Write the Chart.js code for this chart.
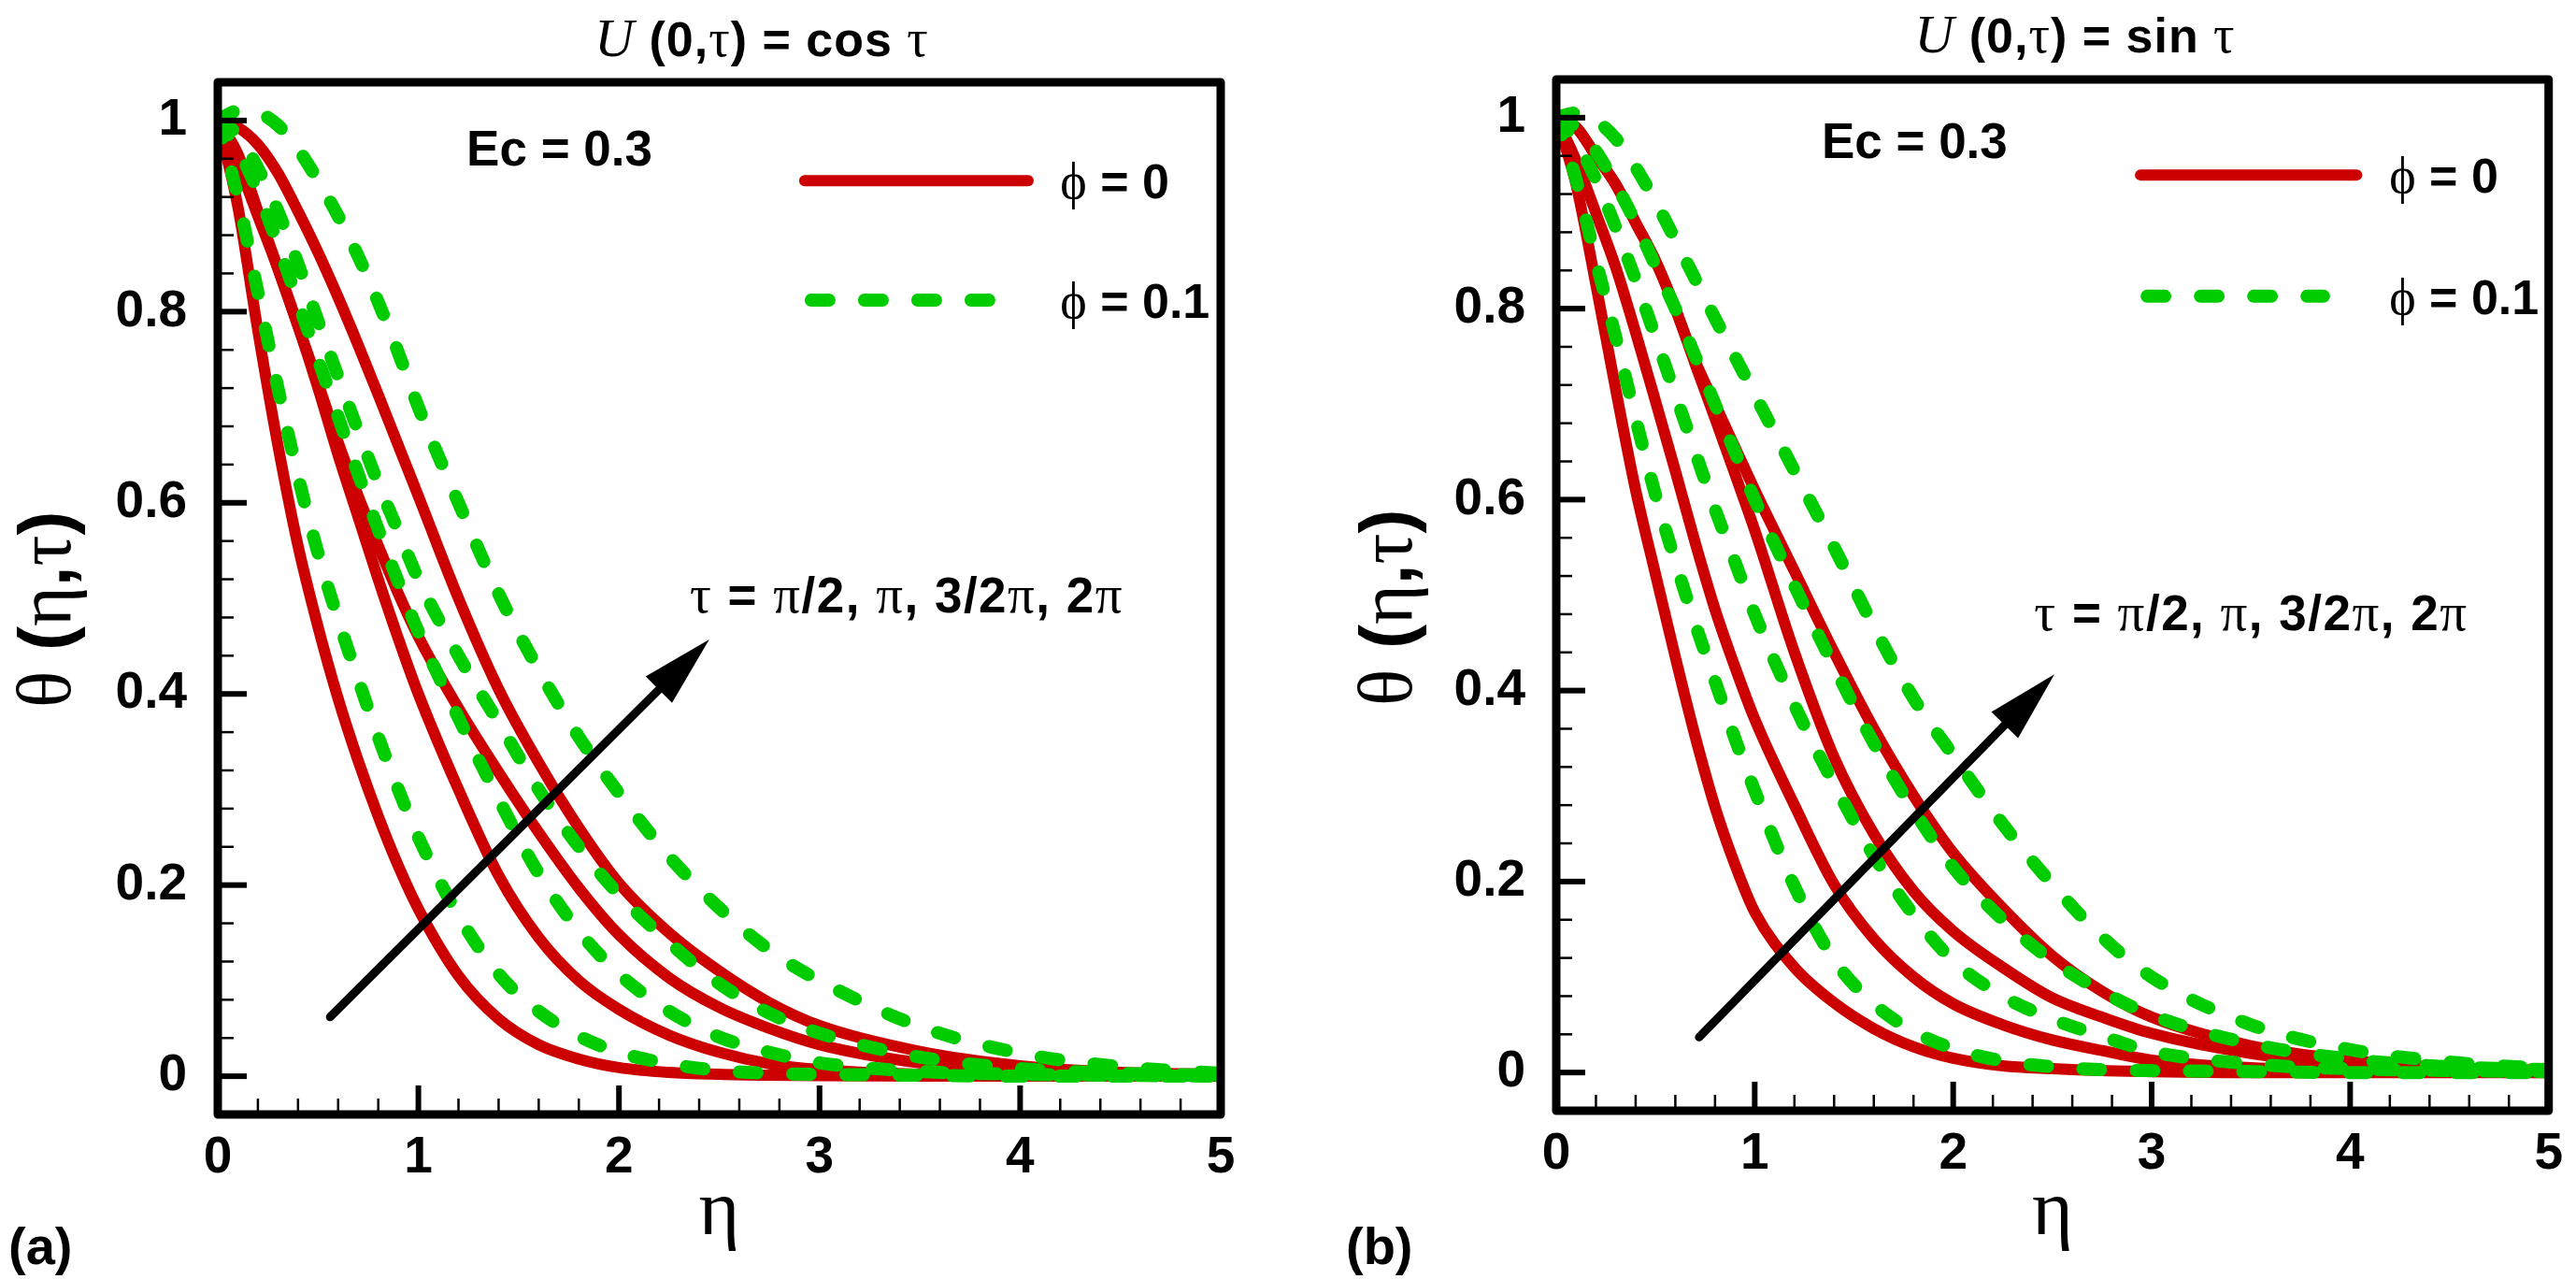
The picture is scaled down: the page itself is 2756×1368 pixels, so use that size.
<!DOCTYPE html>
<html>
<head>
<meta charset="utf-8">
<script src="https://cdn.jsdelivr.net/npm/chart.js@4.4.1/dist/chart.umd.min.js"></script>
<style>
html,body{margin:0;padding:0;background:#fff;}
#wrap{position:relative;width:2756px;height:1368px;background:#fff;}
.panel{position:absolute;top:0;width:1378px;height:1368px;}
</style>
</head>
<body>
<div id="wrap">
<div class="panel" style="left:0"><canvas id="chartA" width="1378" height="1368"></canvas></div>
<div class="panel" style="left:1378px"><canvas id="chartB" width="1378" height="1368"></canvas></div>
</div>
<script>
// eta grid shared by every curve
const eta = [0, 0.1, 0.2, 0.3, 0.4, 0.5, 0.6, 0.7, 0.8, 0.9, 1.0, 1.2, 1.4, 1.6, 1.8, 2.0, 2.25, 2.5, 2.75, 3.0, 3.5, 4.0, 4.5, 5.0]

// (a) U(0,tau) = cos tau, phi = 0  (tau = pi/2, pi, 3pi/2, 2pi)
const cosRed1 = [1.0, 0.91, 0.78, 0.66, 0.555, 0.47, 0.395, 0.33, 0.272, 0.22, 0.175, 0.105, 0.06, 0.033, 0.018, 0.009, 0.004, 0.002, 0.001, 0.0005, 0, 0, 0, 0]
const cosRed2 = [1.0, 0.955, 0.90, 0.845, 0.785, 0.72, 0.65, 0.585, 0.52, 0.458, 0.40, 0.30, 0.21, 0.145, 0.10, 0.07, 0.043, 0.025, 0.013, 0.007, 0.002, 0.001, 0, 0]
const cosRed3 = [1.0, 0.965, 0.905, 0.845, 0.785, 0.725, 0.663, 0.607, 0.555, 0.505, 0.46, 0.385, 0.318, 0.255, 0.197, 0.148, 0.103, 0.072, 0.05, 0.033, 0.014, 0.006, 0.002, 0.001]
const cosRed4 = [1.0, 0.993, 0.975, 0.945, 0.905, 0.862, 0.815, 0.765, 0.713, 0.66, 0.607, 0.50, 0.405, 0.328, 0.26, 0.202, 0.15, 0.11, 0.077, 0.053, 0.026, 0.011, 0.004, 0.002]
// (a) phi = 0.1
const cosGreen1 = [1.0, 0.92, 0.82, 0.72, 0.628, 0.547, 0.478, 0.415, 0.355, 0.30, 0.25, 0.168, 0.107, 0.068, 0.042, 0.025, 0.013, 0.006, 0.003, 0.002, 0.001, 0, 0, 0]
const cosGreen2 = [1.0, 0.97, 0.925, 0.87, 0.81, 0.75, 0.69, 0.63, 0.572, 0.517, 0.465, 0.375, 0.29, 0.212, 0.152, 0.107, 0.068, 0.041, 0.025, 0.014, 0.005, 0.002, 0.001, 0]
const cosGreen3 = [1.0, 0.985, 0.95, 0.905, 0.85, 0.79, 0.732, 0.675, 0.62, 0.57, 0.52, 0.44, 0.37, 0.30, 0.24, 0.19, 0.14, 0.097, 0.066, 0.045, 0.02, 0.008, 0.003, 0.001]
const cosGreen4 = [1.0, 1.01, 1.008, 0.995, 0.97, 0.937, 0.90, 0.858, 0.81, 0.757, 0.70, 0.60, 0.505, 0.425, 0.355, 0.296, 0.23, 0.176, 0.132, 0.10, 0.052, 0.024, 0.01, 0.003]

// (b) U(0,tau) = sin tau, phi = 0
const sinRed1 = [1.0, 0.93, 0.825, 0.715, 0.61, 0.522, 0.435, 0.352, 0.278, 0.218, 0.168, 0.11, 0.073, 0.046, 0.027, 0.015, 0.007, 0.004, 0.002, 0.001, 0, 0, 0, 0]
const sinRed2 = [1.0, 0.955, 0.90, 0.843, 0.775, 0.703, 0.63, 0.555, 0.485, 0.425, 0.37, 0.28, 0.197, 0.14, 0.10, 0.072, 0.05, 0.034, 0.023, 0.013, 0.005, 0.002, 0.001, 0]
const sinRed3 = [1.0, 0.99, 0.96, 0.93, 0.89, 0.85, 0.80, 0.742, 0.685, 0.627, 0.568, 0.44, 0.33, 0.25, 0.19, 0.148, 0.11, 0.078, 0.058, 0.041, 0.02, 0.009, 0.004, 0.002]
const sinRed4 = [1.0, 0.99, 0.96, 0.93, 0.89, 0.85, 0.80, 0.745, 0.70, 0.655, 0.61, 0.525, 0.44, 0.36, 0.29, 0.23, 0.172, 0.122, 0.085, 0.058, 0.028, 0.013, 0.005, 0.002]
// (b) phi = 0.1
const sinGreen1 = [1.0, 0.935, 0.85, 0.77, 0.685, 0.605, 0.535, 0.47, 0.41, 0.35, 0.295, 0.195, 0.118, 0.072, 0.043, 0.025, 0.012, 0.006, 0.003, 0.002, 0.001, 0, 0, 0]
const sinGreen2 = [1.0, 0.975, 0.935, 0.885, 0.83, 0.77, 0.71, 0.65, 0.59, 0.535, 0.48, 0.385, 0.302, 0.227, 0.165, 0.117, 0.08, 0.056, 0.038, 0.022, 0.009, 0.004, 0.002, 0.001]
const sinGreen3 = [1.0, 0.99, 0.965, 0.93, 0.89, 0.845, 0.80, 0.75, 0.70, 0.65, 0.60, 0.51, 0.425, 0.345, 0.275, 0.215, 0.16, 0.117, 0.085, 0.06, 0.03, 0.014, 0.006, 0.003]
const sinGreen4 = [1.0, 1.005, 0.997, 0.978, 0.948, 0.912, 0.872, 0.831, 0.79, 0.75, 0.71, 0.63, 0.55, 0.467, 0.392, 0.332, 0.26, 0.197, 0.142, 0.10, 0.05, 0.024, 0.011, 0.004]

const xTicks = [0, 1, 2, 3, 4, 5]
const yTicks = [0, 0.2, 0.4, 0.6, 0.8, 1]

const RED = '#cc0000'
const GREEN = '#00cc00'
const SANS = '"Liberation Sans", Arial, sans-serif'
const SERIF = '"Liberation Serif", "DejaVu Serif", serif'

// draw a row of text pieces that use different fonts
function runsWidth(ctx, runs){
let w = 0
runs.forEach(r => { ctx.font = r[1]; w += ctx.measureText(r[0]).width })
return w
}
function drawRuns(ctx, runs, x, y, align, spacing){
ctx.letterSpacing = (spacing || 0) + 'px'
let w = runsWidth(ctx, runs)
let cx = align === 'center' ? x - w/2 : x
ctx.textAlign = 'left'
ctx.textBaseline = 'alphabetic'
runs.forEach(r => {
ctx.font = r[1]
ctx.fillText(r[0], cx, y)
cx += ctx.measureText(r[0]).width
})
ctx.letterSpacing = '0px'
}

function decor(cfg){
return {
id: 'decor',
afterDraw(chart){
const {ctx, chartArea: a, scales: {x, y}} = chart
ctx.save()
ctx.fillStyle = '#000'
ctx.strokeStyle = '#000'
ctx.lineCap = 'butt'

// inward ticks
ctx.lineWidth = 2.5
for(let v = 0.2; v < 5; v += 0.2){
if(Math.abs(v - Math.round(v)) < 1e-6) continue
const px = x.getPixelForValue(v)
ctx.beginPath(); ctx.moveTo(px, a.bottom); ctx.lineTo(px, a.bottom - 17); ctx.stroke()
}
for(let v = 0.04; v < 1; v += 0.04){
if(Math.abs(v*5 - Math.round(v*5)) < 1e-6) continue
const py = y.getPixelForValue(v)
ctx.beginPath(); ctx.moveTo(a.left, py); ctx.lineTo(a.left + 17, py); ctx.stroke()
}
ctx.lineWidth = 6
xTicks.forEach(v => {
const px = x.getPixelForValue(v)
ctx.beginPath(); ctx.moveTo(px, a.bottom); ctx.lineTo(px, a.bottom - 31); ctx.stroke()
})
yTicks.forEach(v => {
const py = y.getPixelForValue(v)
ctx.beginPath(); ctx.moveTo(a.left, py); ctx.lineTo(a.left + 31, py); ctx.stroke()
})

// frame
ctx.lineWidth = 9
ctx.lineJoin = 'round'
ctx.strokeRect(a.left, a.top, a.right - a.left, a.bottom - a.top)

// legend
const lx1 = x.getPixelForValue(cfg.legendX[0]), lx2 = x.getPixelForValue(cfg.legendX[1])
const ly1 = y.getPixelForValue(cfg.legendY[0]), ly2 = y.getPixelForValue(cfg.legendY[1])
ctx.lineCap = 'round'
ctx.strokeStyle = RED
ctx.lineWidth = 12
ctx.beginPath(); ctx.moveTo(lx1, ly1); ctx.lineTo(lx2, ly1); ctx.stroke()
ctx.strokeStyle = GREEN
ctx.lineWidth = 14
ctx.setLineDash([19, 38])
ctx.beginPath(); ctx.moveTo(lx1 + 7, ly2); ctx.lineTo(x.getPixelForValue(cfg.legendX[2]), ly2); ctx.stroke()
ctx.setLineDash([])
const tx = x.getPixelForValue(cfg.legendTextX)
drawRuns(ctx, [['\u03d5', `54px ${SERIF}`], [' = 0', `bold 52px ${SANS}`]], tx, ly1 + 19)
drawRuns(ctx, [['\u03d5', `54px ${SERIF}`], [' = 0.1', `bold 52px ${SANS}`]], tx, ly2 + 19)

// Ec label
ctx.font = `bold 53px ${SANS}`
ctx.fillText('Ec = 0.3', x.getPixelForValue(cfg.ec[0]), y.getPixelForValue(cfg.ec[1]))

// tau label
drawRuns(ctx, [
['\u03c4', `57px ${SERIF}`], [' = ', `bold 53px ${SANS}`], ['\u03c0', `57px ${SERIF}`],
['/2, ', `bold 53px ${SANS}`], ['\u03c0', `57px ${SERIF}`], [', 3/2', `bold 53px ${SANS}`],
['\u03c0', `57px ${SERIF}`], [', 2', `bold 53px ${SANS}`], ['\u03c0', `57px ${SERIF}`]
], x.getPixelForValue(cfg.tauText[0]), y.getPixelForValue(cfg.tauText[1]), 'left', 1.5)

// arrow
const ax1 = x.getPixelForValue(cfg.arrow[0]), ay1 = y.getPixelForValue(cfg.arrow[1])
const ax2 = x.getPixelForValue(cfg.arrow[2]), ay2 = y.getPixelForValue(cfg.arrow[3])
const ang = Math.atan2(ay2 - ay1, ax2 - ax1)
const hl = 76, hw = 20
ctx.strokeStyle = '#000'
ctx.lineWidth = 9
ctx.beginPath(); ctx.moveTo(ax1, ay1); ctx.lineTo(ax2 - hl*0.8*Math.cos(ang), ay2 - hl*0.8*Math.sin(ang)); ctx.stroke()
ctx.beginPath()
ctx.moveTo(ax2, ay2)
ctx.lineTo(ax2 - hl*Math.cos(ang) + hw*Math.sin(ang), ay2 - hl*Math.sin(ang) - hw*Math.cos(ang))
ctx.lineTo(ax2 - hl*Math.cos(ang) - hw*Math.sin(ang), ay2 - hl*Math.sin(ang) + hw*Math.cos(ang))
ctx.closePath(); ctx.fill()

// title
drawRuns(ctx, [
['U', `italic 58px ${SERIF}`], [' (0,', `bold 52px ${SANS}`], ['\u03c4', `56px ${SERIF}`],
[') = ' + cfg.fn + ' ', `bold 52px ${SANS}`], ['\u03c4', `56px ${SERIF}`]
], cfg.title[0], cfg.title[1], 'center', 1)

// y axis title
ctx.save()
ctx.translate(cfg.yTitle[0], cfg.yTitle[1])
ctx.rotate(-Math.PI/2)
drawRuns(ctx, [
['\u03b8', `82px ${SERIF}`], [' (', `bold 78px ${SANS}`], ['\u03b7', `82px ${SERIF}`],
[',', `bold 78px ${SANS}`], ['\u03c4', `82px ${SERIF}`], [')', `bold 78px ${SANS}`]
], 0, 0)
ctx.restore()

// panel letter
ctx.font = `bold 56px ${SANS}`
ctx.fillText(cfg.letter, cfg.letterPos[0], cfg.letterPos[1])
ctx.restore()
}
}
}

function makeChart(id, reds, greens, cfg){
const datasets = []
greens.forEach(g => datasets.push({
data: eta.map((e, i) => ({x: e, y: g[i]})),
borderColor: GREEN, borderWidth: 14, borderDash: [19, 38], borderCapStyle: 'round',
pointRadius: 0, cubicInterpolationMode: 'monotone', fill: false
}))
reds.forEach(r => datasets.push({
data: eta.map((e, i) => ({x: e, y: r[i]})),
borderColor: RED, borderWidth: 12, borderCapStyle: 'round', borderJoinStyle: 'round',
pointRadius: 0, cubicInterpolationMode: 'monotone', fill: false
}))
return new Chart(document.getElementById(id), {
type: 'line',
data: {datasets: datasets},
options: {
responsive: false,
animation: false,
devicePixelRatio: 1,
layout: {padding: {left: 0, top: cfg.area.top, right: 1378 - cfg.area.right, bottom: 0}},
plugins: {legend: {display: false}, tooltip: {enabled: false}},
scales: {
x: {
type: 'linear', min: 0, max: 5,
grid: {display: false, drawTicks: false}, border: {display: false},
afterFit: s => { s.height = 1368 - cfg.area.bottom },
afterBuildTicks: s => { s.ticks = xTicks.map(v => ({value: v})) },
ticks: {color: '#000', padding: 14, maxRotation: 0, autoSkip: false,
font: {family: SANS, weight: 'bold', size: 55}},
title: {display: true, text: '\u03b7', color: '#000', padding: {top: 0, bottom: 28},
font: {family: SERIF, size: 84, lineHeight: 1}}
},
y: {
type: 'linear', min: -0.04, max: 1.04,
grid: {display: false, drawTicks: false}, border: {display: false},
afterFit: s => { s.width = cfg.area.left },
afterBuildTicks: s => { s.ticks = yTicks.map(v => ({value: v})) },
ticks: {color: '#000', padding: 33, autoSkip: false,
font: {family: SANS, weight: 'bold', size: 55},
callback: v => String(+v.toFixed(1))}
}
}
},
plugins: [decor(cfg)]
})
}

makeChart('chartA', [cosRed1, cosRed2, cosRed3, cosRed4], [cosGreen1, cosGreen2, cosGreen3, cosGreen4], {
area: {left: 233, right: 1306, top: 88, bottom: 1192},
fn: 'cos', title: [815, 60],
legendX: [2.926, 4.04, 3.872], legendY: [0.937, 0.812], legendTextX: 4.2,
ec: [1.24, 0.953], tauText: [2.353, 0.485],
arrow: [0.56, 0.062, 2.45, 0.457],
yTitle: [75, 757], letter: '(a)', letterPos: [9, 1352]
})

makeChart('chartB', [sinRed1, sinRed2, sinRed3, sinRed4], [sinGreen1, sinGreen2, sinGreen3, sinGreen4], {
area: {left: 287, right: 1361, top: 85, bottom: 1188},
fn: 'sin', title: [842, 56],
legendX: [2.944, 4.033, 3.866], legendY: [0.940, 0.813], legendTextX: 4.197,
ec: [1.337, 0.958], tauText: [2.408, 0.463],
arrow: [0.72, 0.037, 2.51, 0.417],
yTitle: [132, 755], letter: '(b)', letterPos: [62, 1352]
})
</script>
</body>
</html>
